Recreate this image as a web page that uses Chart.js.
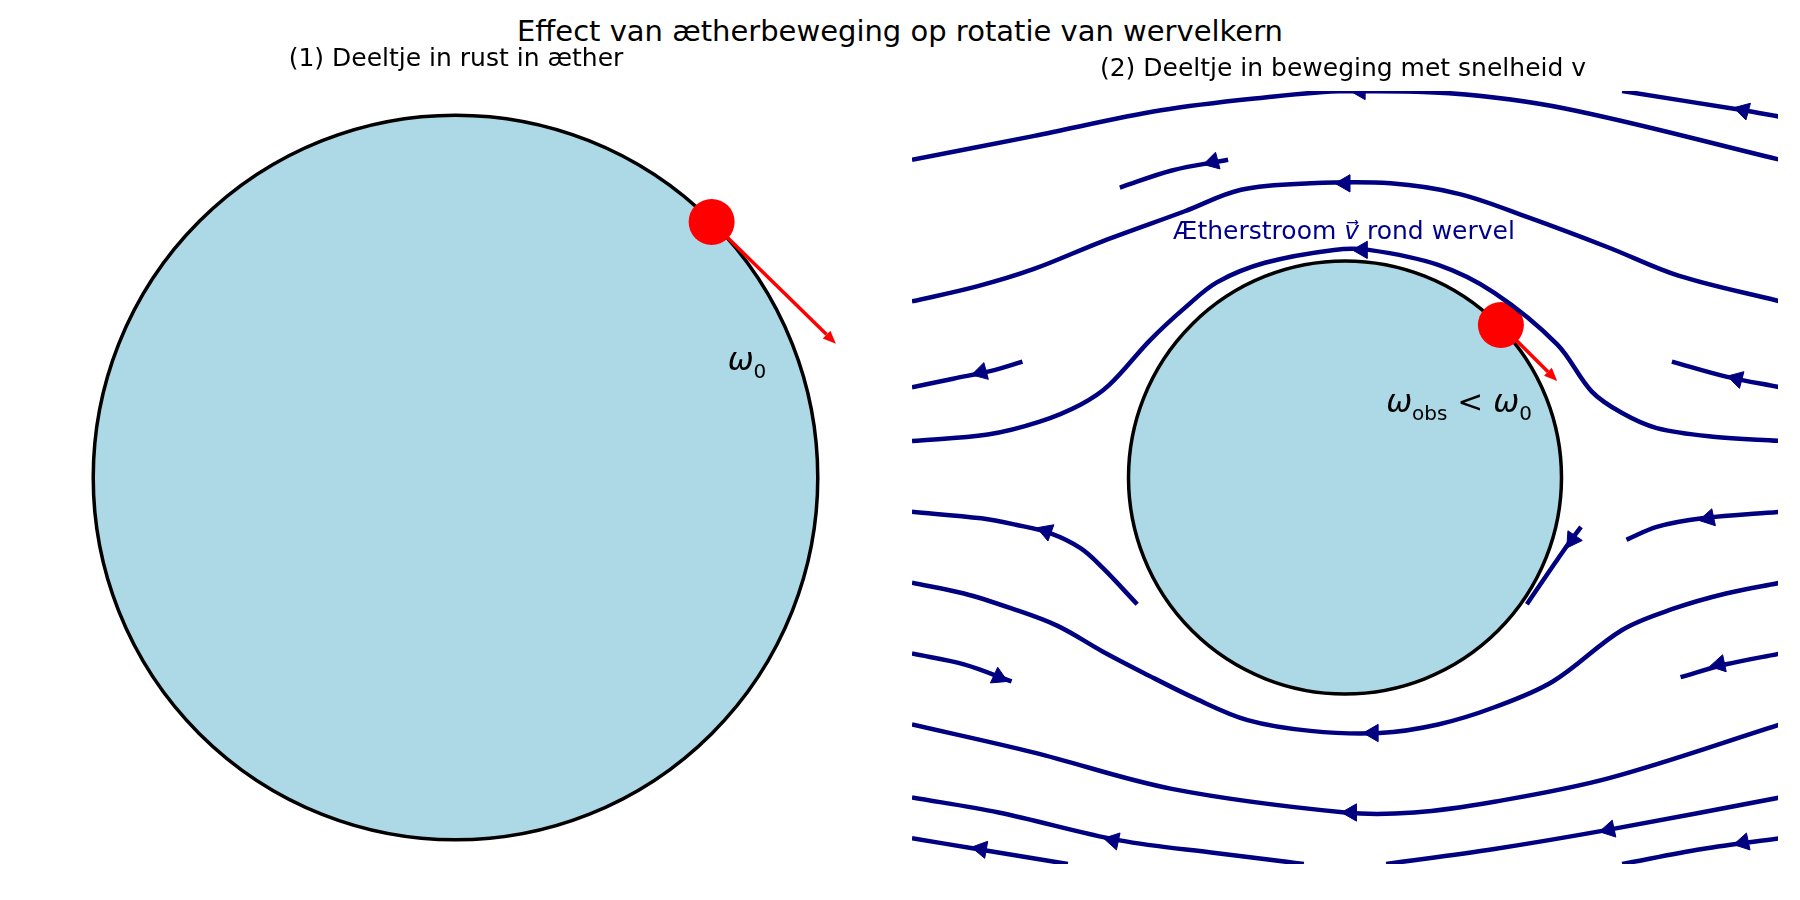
<!DOCTYPE html>
<html>
<head>
<meta charset="utf-8">
<script src="https://cdn.jsdelivr.net/npm/chart.js@4.4.1/dist/chart.umd.min.js"></script>
<style>
  body { margin: 0; width: 1800px; height: 900px; background: #fff; font-family: 'DejaVu Sans', sans-serif; position: relative; overflow: hidden; }
  .box { position: absolute; }
  .t { position: absolute; transform: translate(-50%, -50%); white-space: nowrap; color: #000; }
</style>
</head>
<body>
<div class="box" style="left:34px;top:68px;width:843px;height:819px"><canvas id="left"></canvas></div>
<div class="box" style="left:889px;top:68px;width:912px;height:819px"><canvas id="right"></canvas></div>
<div class="t" style="left:900px;top:31px;font-size:29px">Effect van ætherbeweging op rotatie van wervelkern</div>
<div class="t" style="left:456px;top:57px;font-size:25px">(1) Deeltje in rust in æther</div>
<div class="t" style="left:1343px;top:67px;font-size:25px">(2) Deeltje in beweging met snelheid v</div>
<div class="t" style="left:747px;top:362px;font-size:31px"><i>ω</i><sub style="font-size:20px">0</sub></div>
<div class="t" style="left:1459px;top:404px;font-size:31px"><i>ω</i><sub style="font-size:20px">obs</sub> &lt; <i>ω</i><sub style="font-size:20px">0</sub></div>
<div class="t" style="left:1344px;top:230px;font-size:25px;color:#00008b">Ætherstroom <i>v</i>&#8407; rond wervel</div>
<script>
// ---------- data (assen-eenheden: straal wervelkern = 1)
const leftDot = [0.707, 0.707];
const leftArrowTip = [1.05, 0.37];
const rightDot = [0.72, 0.71];
const rightArrowTip = [0.98, 0.45];

// stroomlijnen rechts (x, y)
const streamlines = [
  [[-2,1.48],[-1.44,1.59],[-0.85,1.71],[-0.37,1.77],[0,1.80],[0.48,1.79],[1.01,1.72],[2.01,1.48]],
  [[1.28,1.80],[1.84,1.71],[2.01,1.68]],
  [[-1.04,1.35],[-0.80,1.43],[-0.54,1.48]],
  [[-2,0.82],[-1.70,0.89],[-1.44,0.97],[-1.12,1.10],[-0.74,1.24],[-0.48,1.34],[-0.16,1.37],[0.21,1.37],[0.53,1.32],[0.85,1.21],[1.22,1.07],[1.54,0.94],[2.01,0.82]],
  [[-2,0.17],[-1.65,0.20],[-1.41,0.26],[-1.22,0.34],[-1.09,0.43],[-0.90,0.64],[-0.74,0.79],[-0.59,0.91],[-0.37,1.00],[-0.05,1.06],[0.11,1.06],[0.43,0.99],[0.69,0.86],[0.98,0.62],[1.14,0.40],[1.28,0.30],[1.44,0.23],[1.70,0.19],[2.01,0.17]],
  [[-2,0.42],[-1.81,0.46],[-1.62,0.50],[-1.49,0.54]],
  [[1.51,0.54],[1.76,0.47],[2.01,0.42]],
  [[-2,-0.16],[-1.68,-0.19],[-1.52,-0.22],[-1.36,-0.26],[-1.22,-0.33],[-1.12,-0.42],[-0.96,-0.59]],
  [[1.09,-0.23],[1.01,-0.34],[0.84,-0.59]],
  [[1.30,-0.29],[1.44,-0.23],[1.65,-0.19],[2.01,-0.16]],
  [[-2,-0.49],[-1.76,-0.54],[-1.54,-0.61],[-1.33,-0.69],[-1.12,-0.81],[-0.93,-0.91],[-0.69,-1.03],[-0.45,-1.13],[-0.16,-1.18],[0.16,-1.19],[0.43,-1.15],[0.69,-1.07],[0.96,-0.95],[1.28,-0.71],[1.52,-0.61],[1.76,-0.54],[2.01,-0.49]],
  [[-2,-0.82],[-1.76,-0.87],[-1.54,-0.95]],
  [[1.55,-0.93],[1.76,-0.87],[2.01,-0.82]],
  [[-2,-1.15],[-1.44,-1.28],[-0.80,-1.45],[0,-1.56],[0.32,-1.56],[0.69,-1.51],[1.22,-1.40],[2.01,-1.15]],
  [[-2,-1.49],[-1.60,-1.56],[-1.04,-1.69],[-0.59,-1.75],[-0.27,-1.79],[-0.19,-1.80]],
  [[0.19,-1.80],[0.69,-1.73],[1.22,-1.64],[2.01,-1.49]],
  [[-2,-1.68],[-1.70,-1.73],[-1.28,-1.80]],
  [[1.28,-1.80],[1.65,-1.73],[2.01,-1.68]]
];

// pijlpunten op stroomlijnen
const arrowX   = [0.07, 1.84, -0.61, 0, 0.08, -1.68, 1.81, -1.38, 1.05, 1.68, 0.13, -1.60, 1.73, 0.03, -1.07, 1.22, -1.68, 1.84];
const arrowY   = [1.80, 1.71, 1.47, 1.37, 1.06, 0.49, 0.46, -0.25, -0.29, -0.19, -1.19, -0.93, -0.87, -1.56, -1.69, -1.64, -1.73, -1.70];
const arrowRot = [270, 285, 255, 270, 270, 255, 285, 290, 214, 258, 270, 115, 258, 270, 282, 258, 280, 258];

const NAVY = '#000080';

function arrowPlugin(dot, tip) {
  return {
    id: 'vortex',
    beforeDatasetsDraw(chart) {
      const { ctx, scales: { x, y } } = chart;
      const cx = x.getPixelForValue(0), cy = y.getPixelForValue(0);
      const r = x.getPixelForValue(1) - cx;
      ctx.save();
      ctx.beginPath();
      ctx.arc(cx, cy, r, 0, Math.PI * 2);
      ctx.fillStyle = '#add8e6';
      ctx.fill();
      ctx.lineWidth = 3.5;
      ctx.strokeStyle = '#000';
      ctx.stroke();
      // rode pijl (raaklijn)
      const x0 = x.getPixelForValue(dot[0]), y0 = y.getPixelForValue(dot[1]);
      const x1 = x.getPixelForValue(tip[0]), y1 = y.getPixelForValue(tip[1]);
      const a = Math.atan2(y1 - y0, x1 - x0);
      const hl = 13, hw = 5.5;
      ctx.strokeStyle = 'red';
      ctx.fillStyle = 'red';
      ctx.lineWidth = 3.5;
      ctx.beginPath();
      ctx.moveTo(x0, y0);
      ctx.lineTo(x1 - hl * Math.cos(a), y1 - hl * Math.sin(a));
      ctx.stroke();
      ctx.beginPath();
      ctx.moveTo(x1, y1);
      ctx.lineTo(x1 - hl * Math.cos(a) - hw * Math.sin(a), y1 - hl * Math.sin(a) + hw * Math.cos(a));
      ctx.lineTo(x1 - hl * Math.cos(a) + hw * Math.sin(a), y1 - hl * Math.sin(a) - hw * Math.cos(a));
      ctx.closePath();
      ctx.fill();
      ctx.restore();
    }
  };
}

function baseOptions(xr, yr) {
  return {
    responsive: true,
    maintainAspectRatio: false,
    animation: false,
    layout: { padding: 0 },
    scales: {
      x: { type: 'linear', min: -xr, max: xr, display: false },
      y: { type: 'linear', min: -yr, max: yr, display: false }
    },
    plugins: { legend: { display: false }, tooltip: { enabled: false } }
  };
}

const dotDataset = (p) => ({
  type: 'scatter',
  data: [{ x: p[0], y: p[1] }],
  pointRadius: 23,
  pointBackgroundColor: 'red',
  pointBorderWidth: 0
});

new Chart(document.getElementById('left'), {
  type: 'scatter',
  data: { datasets: [dotDataset(leftDot)] },
  options: baseOptions(1.1, 1.069),
  plugins: [arrowPlugin(leftDot, leftArrowTip)]
});

const lineSets = streamlines.map(s => ({
  type: 'line',
  data: s.map(([x, y]) => ({ x, y })),
  borderColor: NAVY,
  borderWidth: 4.5,
  pointRadius: 0,
  tension: 0.35,
  fill: false
}));

new Chart(document.getElementById('right'), {
  type: 'scatter',
  data: {
    datasets: [
      ...lineSets,
      {
        type: 'scatter',
        data: arrowX.map((x, i) => ({ x, y: arrowY[i] })),
        pointStyle: 'triangle',
        rotation: arrowRot,
        pointRadius: 10,
        pointBackgroundColor: NAVY,
        pointBorderColor: NAVY,
        pointBorderWidth: 1
      },
      dotDataset(rightDot)
    ]
  },
  options: baseOptions(2, 1.8),
  plugins: [arrowPlugin(rightDot, rightArrowTip)]
});
</script>
</body>
</html>
